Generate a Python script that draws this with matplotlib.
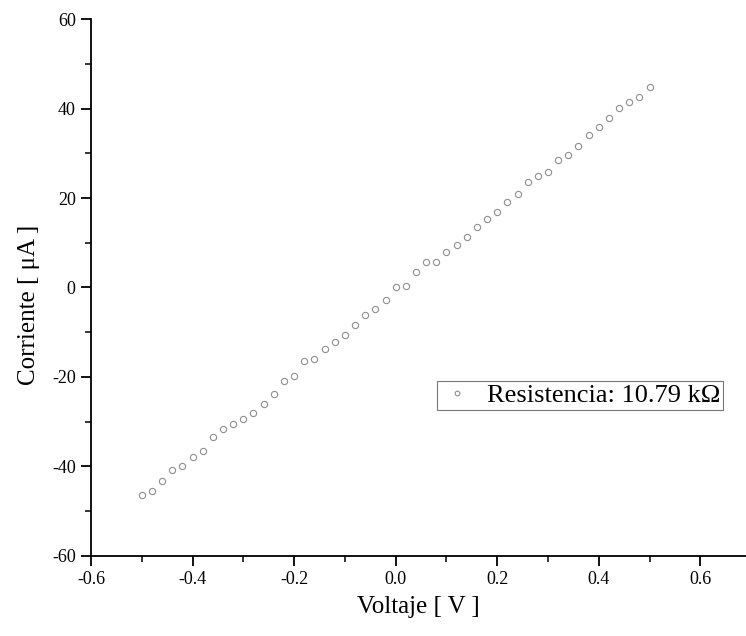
import matplotlib
matplotlib.use('Agg')
import matplotlib.pyplot as plt
from matplotlib.ticker import MultipleLocator, FormatStrFormatter

plt.rcParams['font.family'] = ['Liberation Serif', 'DejaVu Serif']
plt.rcParams['axes.unicode_minus'] = False

# voltage sweep [V] and measured current [uA]
voltaje = [-0.50, -0.48, -0.46, -0.44, -0.42, -0.40, -0.38, -0.36, -0.34, -0.32,
           -0.30, -0.28, -0.26, -0.24, -0.22, -0.20, -0.18, -0.16, -0.14, -0.12,
           -0.10, -0.08, -0.06, -0.04, -0.02, 0.00, 0.02, 0.04, 0.06, 0.08,
           0.10, 0.12, 0.14, 0.16, 0.18, 0.20, 0.22, 0.24, 0.26, 0.28,
           0.30, 0.32, 0.34, 0.36, 0.38, 0.40, 0.42, 0.44, 0.46, 0.48, 0.50]
corriente = [-46.3, -45.6, -43.3, -40.7, -40.0, -37.8, -36.6, -33.4, -31.6, -30.5,
             -29.3, -28.0, -26.0, -23.8, -20.8, -19.9, -16.5, -16.1, -13.7, -12.1,
             -10.6, -8.3, -6.1, -4.9, -2.9, 0.1, 0.4, 3.4, 5.7, 5.7,
             8.0, 9.5, 11.2, 13.6, 15.3, 16.8, 19.1, 20.9, 23.5, 25.0,
             25.9, 28.4, 29.6, 31.7, 34.0, 35.8, 37.8, 40.2, 41.4, 42.5, 44.8]
etiqueta = 'Resistencia: 10.79 k\u03a9'

fig = plt.figure(figsize=(7.46, 6.36), dpi=100)
ax = fig.add_axes([0.122, 0.126, 0.878, 0.844])

ax.plot(voltaje, corriente, linestyle='none', marker='o', markersize=4.5,
        markerfacecolor='none', markeredgecolor='#8f8f8f', markeredgewidth=0.8,
        label=etiqueta)

ax.set_xlim(-0.6, 0.69)
ax.set_ylim(-60, 60)
ax.xaxis.set_major_locator(MultipleLocator(0.2))
ax.xaxis.set_minor_locator(MultipleLocator(0.1))
ax.xaxis.set_major_formatter(FormatStrFormatter('%.1f'))
ax.yaxis.set_major_locator(MultipleLocator(20))
ax.yaxis.set_minor_locator(MultipleLocator(10))

ax.spines['top'].set_visible(False)
ax.spines['right'].set_visible(False)
for s in ['left', 'bottom']:
    ax.spines[s].set_linewidth(1.3)
ax.tick_params(which='major', direction='out', length=7, width=1.3, labelsize=13, pad=4)
ax.tick_params(which='minor', direction='out', length=4, width=1.1)

ax.set_xlabel('Voltaje [ V ]', fontsize=18, labelpad=6)
ax.set_ylabel('Corriente [ \u03bcA ]', fontsize=18)
ax.yaxis.set_label_coords(-0.078, 0.467)

leg = ax.legend(loc='upper left', bbox_to_anchor=(0.528, 0.326), fontsize=19,
                frameon=True, fancybox=False, edgecolor='#555555',
                handletextpad=0.5, borderpad=0.1, borderaxespad=0,
                markerscale=0.75, handlelength=1.3)
leg.get_frame().set_linewidth(0.8)

fig.savefig('out.png', dpi=100)
